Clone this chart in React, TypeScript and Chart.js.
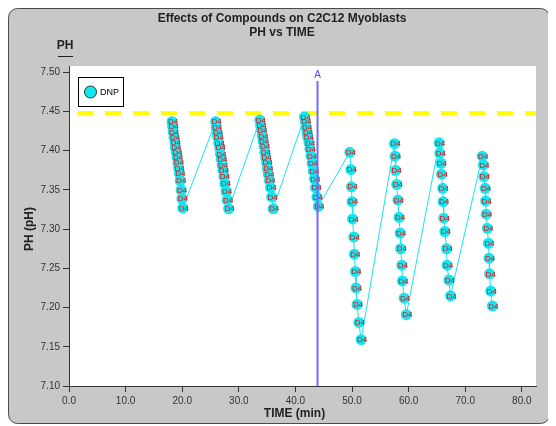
import React, { useEffect, useRef } from "react";
import { Chart, registerables } from "chart.js";

Chart.register(...registerables);

// Time (min) and pH readings, one pair of arrays per measurement cycle
const cycle1Time = [18.2, 18.3, 18.4, 18.55, 18.7, 18.8, 18.95, 19.1, 19.25, 19.35, 19.5, 19.65, 19.8, 19.95, 20.1];
const cycle1PH = [7.437, 7.431, 7.424, 7.417, 7.411, 7.404, 7.398, 7.392, 7.385, 7.378, 7.371, 7.362, 7.35, 7.339, 7.327];

const cycle2Time = [25.9, 26.0, 26.15, 26.3, 26.45, 26.6, 26.75, 26.9, 27.05, 27.2, 27.35, 27.55, 27.75, 27.95, 28.2];
const cycle2PH = [7.437, 7.43, 7.423, 7.417, 7.41, 7.404, 7.396, 7.389, 7.382, 7.375, 7.367, 7.358, 7.348, 7.337, 7.326];

const cycle3Time = [33.7, 33.85, 34.0, 34.15, 34.3, 34.45, 34.6, 34.75, 34.9, 35.05, 35.2, 35.4, 35.6, 35.8, 36.05];
const cycle3PH = [7.439, 7.432, 7.426, 7.419, 7.412, 7.406, 7.398, 7.391, 7.385, 7.377, 7.37, 7.362, 7.353, 7.341, 7.326];

const cycle4Time = [41.6, 41.75, 41.9, 42.05, 42.2, 42.4, 42.55, 42.75, 42.95, 43.15, 43.35, 43.55, 43.8, 44.05];
const cycle4PH = [7.443, 7.437, 7.43, 7.423, 7.417, 7.41, 7.402, 7.393, 7.384, 7.374, 7.364, 7.353, 7.341, 7.329];

const cycle5Time = [49.6, 49.8, 49.9, 50.0, 50.1, 50.3, 50.4, 50.6, 50.7, 50.9, 51.2, 51.6];
const cycle5PH = [7.398, 7.376, 7.354, 7.335, 7.313, 7.29, 7.268, 7.246, 7.225, 7.204, 7.181, 7.159];

const cycle6Time = [57.5, 57.6, 57.7, 57.9, 58.1, 58.3, 58.5, 58.6, 58.8, 58.9, 59.2, 59.6];
const cycle6PH = [7.409, 7.393, 7.375, 7.357, 7.337, 7.315, 7.295, 7.275, 7.254, 7.234, 7.212, 7.191];

const cycle7Time = [65.4, 65.5, 65.7, 65.8, 66.0, 66.1, 66.2, 66.4, 66.7, 66.8, 67.1, 67.4];
const cycle7PH = [7.41, 7.397, 7.384, 7.37, 7.352, 7.335, 7.314, 7.297, 7.275, 7.254, 7.235, 7.215];

const cycle8Time = [73.0, 73.2, 73.3, 73.5, 73.6, 73.7, 73.9, 74.1, 74.2, 74.3, 74.5, 74.8];
const cycle8PH = [7.393, 7.382, 7.367, 7.352, 7.336, 7.319, 7.301, 7.282, 7.263, 7.243, 7.221, 7.202];

const cycleTimes = [cycle1Time, cycle2Time, cycle3Time, cycle4Time, cycle5Time, cycle6Time, cycle7Time, cycle8Time];
const cyclePHs = [cycle1PH, cycle2PH, cycle3PH, cycle4PH, cycle5PH, cycle6PH, cycle7PH, cycle8PH];

const seriesName = "DNP";
const pointTag = "D4";
const referencePH = 7.448;
const markerTime = 43.9;
const markerLabel = "A";

const xTicks = [0, 10, 20, 30, 40, 50, 60, 70, 80];
const yTicks = [7.1, 7.15, 7.2, 7.25, 7.3, 7.35, 7.4, 7.45, 7.5];

const titleLines = ["Effects of Compounds on C2C12 Myoblasts", "PH vs TIME"];
const unitHeader = "PH";
const xTitle = "TIME (min)";
const yTitle = "PH (pH)";

const FONT = "'Liberation Sans', Arial, sans-serif";
const CYAN = "#14e6f0";
const PANEL = "#c8c8c8";
const INK = "#222222";

const framePlugin = {
  id: "frame",
  beforeDraw(chart: any) {
    const { ctx, chartArea } = chart;
    ctx.save();
    ctx.beginPath();
    ctx.roundRect(0.5, 0.5, 541, 415, 9);
    ctx.fillStyle = PANEL;
    ctx.fill();
    ctx.strokeStyle = "#4a4a4a";
    ctx.lineWidth = 1;
    ctx.stroke();
    ctx.fillStyle = "#ffffff";
    ctx.fillRect(chartArea.left, chartArea.top, chartArea.right - chartArea.left, chartArea.bottom - chartArea.top);
    ctx.restore();
  },
};

const overlayPlugin = {
  id: "overlay",
  beforeDatasetsDraw(chart: any) {
    const { ctx, chartArea, scales } = chart;
    const y = scales.y.getPixelForValue(referencePH);
    ctx.save();
    ctx.beginPath();
    ctx.rect(chartArea.left, chartArea.top, chartArea.right - chartArea.left, chartArea.bottom - chartArea.top);
    ctx.clip();
    ctx.strokeStyle = "#ffff00";
    ctx.lineWidth = 4;
    ctx.setLineDash([16, 12]);
    ctx.lineDashOffset = 20;
    ctx.beginPath();
    ctx.moveTo(chartArea.left, y);
    ctx.lineTo(chartArea.right, y);
    ctx.stroke();
    ctx.restore();
  },
  afterDatasetsDraw(chart: any) {
    const { ctx, chartArea, scales } = chart;
    const meta = chart.getDatasetMeta(0);
    ctx.save();
    // tag on every reading
    ctx.fillStyle = "#ff0000";
    ctx.font = `8px ${FONT}`;
    ctx.textAlign = "center";
    ctx.textBaseline = "middle";
    meta.data.forEach((pt: any) => {
      ctx.fillText(pointTag, pt.x + 1, pt.y + 0.5);
    });

    // event marker
    const mx = scales.x.getPixelForValue(markerTime);
    ctx.strokeStyle = "#6b6bff";
    ctx.lineWidth = 2;
    ctx.beginPath();
    ctx.moveTo(mx, chartArea.top + 15);
    ctx.lineTo(mx, chartArea.bottom);
    ctx.stroke();
    ctx.fillStyle = "#4a4aff";
    ctx.font = `10px ${FONT}`;
    ctx.textBaseline = "middle";
    ctx.fillText(markerLabel, mx, chartArea.top + 9);

    // legend box
    const lx = chartArea.left + 9;
    const ly = chartArea.top + 11;
    ctx.fillStyle = "#ffffff";
    ctx.fillRect(lx, ly, 45, 29);
    ctx.strokeStyle = "#000000";
    ctx.lineWidth = 1;
    ctx.strokeRect(lx + 0.5, ly + 0.5, 45, 29);
    ctx.beginPath();
    ctx.arc(lx + 12.5, ly + 15, 6, 0, Math.PI * 2);
    ctx.fillStyle = CYAN;
    ctx.fill();
    ctx.strokeStyle = "#1a3a3a";
    ctx.stroke();
    ctx.fillStyle = "#000000";
    ctx.font = `9px ${FONT}`;
    ctx.textAlign = "left";
    ctx.fillText(seriesName, lx + 22, ly + 15.5);
    ctx.restore();
  },
  afterDraw(chart: any) {
    const { ctx, chartArea } = chart;
    ctx.save();
    ctx.fillStyle = INK;
    ctx.textAlign = "center";
    ctx.textBaseline = "middle";
    ctx.font = `bold 12px ${FONT}`;
    ctx.fillText(titleLines[0], 274, 11);
    ctx.fillText(titleLines[1], 274, 25);

    ctx.fillText(unitHeader, 57, 38);
    ctx.fillRect(50, 48, 15, 1);

    ctx.fillText(xTitle, (chartArea.left + chartArea.right) / 2 - 8, 406);

    ctx.translate(22, (chartArea.top + chartArea.bottom) / 2 + 3);
    ctx.rotate(-Math.PI / 2);
    ctx.fillText(yTitle, 0, 0);
    ctx.restore();
  },
};

export default function App() {
  const canvasRef = useRef<HTMLCanvasElement | null>(null);

  useEffect(() => {
    if (!canvasRef.current) return;
    const points: { x: number; y: number }[] = [];
    cycleTimes.forEach((times, i) => {
      times.forEach((t, j) => points.push({ x: t, y: cyclePHs[i][j] }));
    });

    const tickFont = { family: FONT, size: 10 };
    const chart = new Chart(canvasRef.current, {
      type: "scatter",
      data: {
        datasets: [
          {
            label: seriesName,
            data: points,
            showLine: true,
            borderColor: CYAN,
            borderWidth: 1,
            pointRadius: 5.5,
            pointHoverRadius: 5.5,
            pointBackgroundColor: CYAN,
            pointBorderWidth: 0,
          },
        ],
      },
      options: {
        responsive: false,
        devicePixelRatio: 1,
        animation: false,
        layout: { padding: { left: 0, right: 20, top: 58, bottom: 20 } },
        plugins: {
          legend: { display: false },
          tooltip: { enabled: false },
          title: { display: false },
        },
        scales: {
          x: {
            type: "linear",
            min: 0,
            max: 82.5,
            afterBuildTicks: (s: any) => {
              s.ticks = xTicks.map((v) => ({ value: v }));
            },
            afterFit: (s: any) => {
              s.height = 20;
            },
            ticks: {
              callback: (v: any) => Number(v).toFixed(1),
              font: tickFont,
              color: "#333333",
              padding: 3,
              maxRotation: 0,
              autoSkip: false,
            },
            grid: { drawOnChartArea: false, drawTicks: true, tickLength: 6, color: "#333333" },
            border: { display: true, color: "#333333", width: 1 },
          },
          y: {
            type: "linear",
            min: 7.1,
            max: 7.508,
            afterBuildTicks: (s: any) => {
              s.ticks = yTicks.map((v) => ({ value: v }));
            },
            afterFit: (s: any) => {
              s.width = 61;
            },
            ticks: {
              callback: (v: any) => Number(v).toFixed(2),
              font: tickFont,
              color: "#333333",
              padding: 3,
              autoSkip: false,
            },
            grid: { drawOnChartArea: false, drawTicks: true, tickLength: 6, color: "#333333" },
            border: { display: true, color: "#333333", width: 1 },
          },
        },
      },
      plugins: [framePlugin, overlayPlugin],
    });
    return () => chart.destroy();
  }, []);

  return <canvas ref={canvasRef} width={548} height={418} style={{ display: "block" }} />;
}
